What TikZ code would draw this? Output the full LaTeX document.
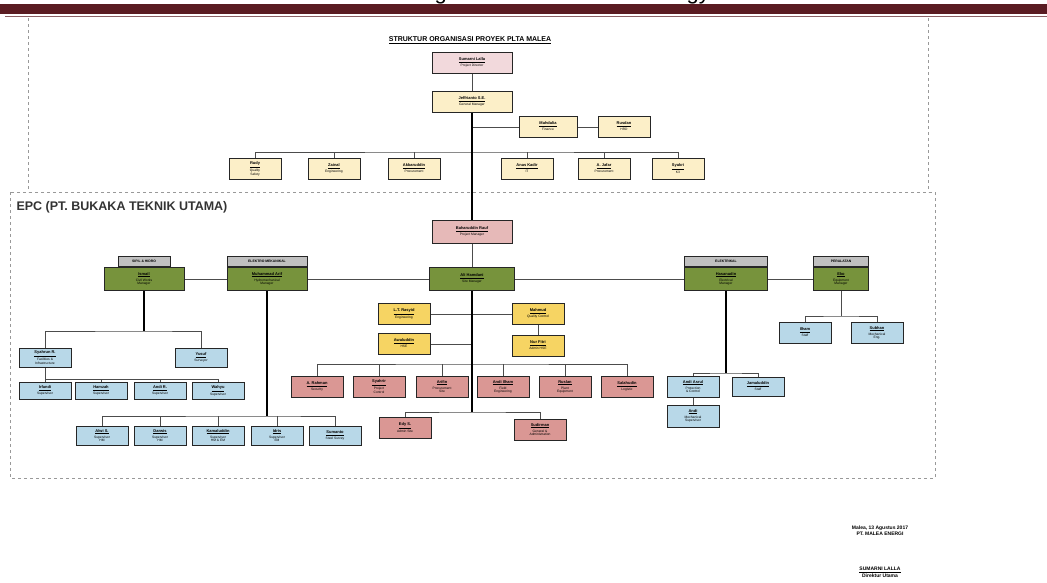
\documentclass[tikz,border=0pt]{standalone}
\usepackage{fontspec}
\setmainfont{Liberation Sans}
\usetikzlibrary{positioning}
\definecolor{barred}{HTML}{5A1C22}
\definecolor{palepink}{HTML}{F2D9DC}
\definecolor{cream}{HTML}{FCEFC8}
\definecolor{salmon}{HTML}{DA9794}
\definecolor{rosy}{HTML}{E6B9B8}
\definecolor{olive}{HTML}{77933C}
\definecolor{gold}{HTML}{F6D463}
\definecolor{skyblue}{HTML}{B8D8E8}
\definecolor{headgray}{HTML}{C0C0C0}
\newcommand{\who}[2]{\underline{#1}\\[0.6pt]{\fontsize{3.3}{3.9}\selectfont\mdseries\renewcommand{\arraystretch}{0.9}\begin{tabular}{@{}c@{}}#2\end{tabular}}}

\begin{document}
\begin{tikzpicture}[x=1pt, y=-1pt,
    orgbox/.style={draw=black!85, line width=1pt, minimum width=52pt, minimum height=21pt,
        inner sep=1pt, align=center, font=\fontsize{4}{4.6}\selectfont\bfseries},
    topbox/.style={orgbox, fill=cream},
    pinkbox/.style={orgbox, fill=salmon},
    greenbox/.style={orgbox, fill=olive, minimum width=80pt, minimum height=23pt},
    headbox/.style={orgbox, fill=headgray, minimum height=10pt, font=\fontsize{3.4}{3.8}\selectfont\bfseries},
    goldbox/.style={orgbox, fill=gold},
    bluebox/.style={orgbox, fill=skyblue, minimum height=19pt},
    link/.style={draw=black!70, line width=0.8pt},
    trunk/.style={draw=black, line width=2pt},
    frame/.style={draw=black!40, dashed, line width=0.6pt}]
    \useasboundingbox (0,0) rectangle (1047,582);

    % page header
    \begin{scope}
        \clip (0,0) rectangle (1047,4);
        \node[anchor=base west, inner sep=0pt, font=\fontsize{22}{24}\selectfont] at (410,-1) {Organization and Methodology};
    \end{scope}
    \fill[barred] (0,4) rectangle (1047,14);
    \draw[barred!70, line width=1pt] (5,16) -- (1047,16);

    % frames
    \draw[frame] (28,18) -- (28,192) (928,18) -- (928,192);
    \draw[frame] (10,192) rectangle (935,478);

    \node[font=\fontsize{7}{8}\selectfont\bfseries] (title) at (470,40) {\underline{STRUKTUR ORGANISASI PROYEK PLTA MALEA}};

    % owner
    \node[orgbox, fill=palepink, minimum width=80pt] (pd) at (472,63) {\who{Sumarni Lalla}{Project Director}};
    \node[topbox, minimum width=80pt] (gm) at (472,102) {\who{Jeffrianto S.E.}{General Manager}};
    \node[topbox, minimum width=58pt] (fin) at (548,127) {\who{Mahdalia}{Finance}};
    \node[topbox] (hrd) at (624,127) {\who{Rusdan}{HRD}};
    \node[topbox] (t1) at (255,169) {\who{Rudy}{Quality\\Safety}};
    \node[topbox] (t2) at (334,169) {\who{Zainal}{Engineering}};
    \node[topbox] (t3) at (414,169) {\who{Akbaruddin}{Procurement}};
    \node[topbox] (t4) at (527,169) {\who{Anas Kadir}{IT}};
    \node[topbox] (t5) at (604,169) {\who{A. Jafar}{Procurement}};
    \node[topbox] (t6) at (678,169) {\who{Syukri}{K3}};
    \coordinate (bus1) at (472,152);

    \draw[link] (pd) -- (gm);
    \draw[link] (gm.south |- fin) -- (fin) -- (hrd);
    \draw[link] (t1.north) |- (bus1) -| (t6.north);
    \foreach \t in {t2,t3,t4,t5}
        \draw[link] (\t.north) -- (\t.north |- bus1);

    % EPC
    \node[anchor=west, font=\fontsize{12.5}{14}\selectfont\bfseries, text=black!80] (epc) at (13,207) {EPC (PT. BUKAKA TEKNIK UTAMA)};
    \node[orgbox, fill=rosy, minimum width=80pt, minimum height=23pt] (epm) at (472,232) {\who{Baharuddin Rauf}{Project Manager}};
    \draw[trunk] (gm.south) -- (epm.north);
    \node[greenbox, minimum width=85pt] (gm2) at (472,279) {\who{Ali Hamdani}{Site Manager}};
    \node[greenbox] (g1) at (144,279) {\who{Ismail}{Civil Works\\Manager}};
    \node[headbox, anchor=south] (h1) at (g1.north) {SIPIL \& HIDRO};
    \node[greenbox] (g2) at (267,279) {\who{Muhammad Arif}{Hydromechanical\\Manager}};
    \node[headbox, anchor=south, minimum width=80pt] (h2) at (g2.north) {ELEKTRO MEKANIKAL};
    \node[greenbox, minimum width=83pt] (g3) at (726,279) {\who{Hasanudin}{Electrical\\Manager}};
    \node[headbox, anchor=south, minimum width=83pt] (h3) at (g3.north) {ELEKTRIKAL};
    \node[greenbox, minimum width=55pt] (g4) at (841,279) {\who{Eko}{Equipment\\Manager}};
    \node[headbox, anchor=south, minimum width=55pt] (h4) at (g4.north) {PERALATAN};
    \draw[link] (epm) -- (gm2);
    \draw[link] (g1) -- (g2) -- (gm2) -- (g3) -- (g4);

    % site staff
    \node[goldbox] (y1) at (404,314) {\who{L.T. Rasyid}{Engineering}};
    \node[goldbox] (y2) at (404,344) {\who{Awaluddin}{HSE}};
    \node[goldbox] (y3) at (538,314) {\who{Mahmud}{Quality Control}};
    \node[goldbox] (y4) at (538,346) {\who{Nur Fitri}{Admin HSE}};
    \draw[link] (y1) -- (y3);
    \draw[link] (y2) -- (y2 -| gm2);
    \draw[link] (y3) -- (y4);

    \node[pinkbox] (p1) at (317,387) {\who{A. Rahman}{Security}};
    \node[pinkbox] (p2) at (379,387) {\who{Syahrir}{Project\\Control}};
    \node[pinkbox] (p3) at (442,387) {\who{Arifin}{Procurement\\Site}};
    \node[pinkbox] (p4) at (503,387) {\who{Andi Ilham}{Field\\Engineering}};
    \node[pinkbox] (p5) at (565,387) {\who{Ruslan}{Plant\\Equipment}};
    \node[pinkbox] (p6) at (627,387) {\who{Salahudin}{Logistic}};
    \node[pinkbox] (q1) at (405,428) {\who{Edy S.}{Admin Site}};
    \node[pinkbox] (q2) at (540,430) {\who{Sudirman}{General \&\\Administration}};
    \coordinate (pbus) at (472,364);
    \coordinate (bot) at (472,412);
    \draw[link] (p1.north) |- (pbus) -| (p6.north);
    \foreach \p in {p2,p3,p4,p5}
        \draw[link] (\p.north) -- (\p.north |- pbus);
    \draw[link] (q1.north) |- (bot) -| (q2.north);
    \draw[trunk] (gm2.south) -- (bot);

    % civil
    \node[bluebox] (a1) at (45,358) {\who{Syahrun R.}{Facilities \&\\Infrastructure}};
    \node[bluebox] (a2) at (201,358) {\who{Yusuf}{Surveyor}};
    \node[bluebox, minimum height=17pt] (b1) at (45,391) {\who{Irfandi}{Supervisor}};
    \node[bluebox, minimum height=17pt] (b2) at (101,391) {\who{Hamzah}{Supervisor}};
    \node[bluebox, minimum height=17pt] (b3) at (160,391) {\who{Andi R.}{Supervisor}};
    \node[bluebox, minimum height=17pt] (b4) at (218,391) {\who{Wahyu}{Supervisor}};
    \coordinate (lbus) at (144,331);
    \coordinate (abus) at (45,379);
    \draw[link, line width=1.2pt, black] (g1.south) -- (lbus);
    \draw[link] (a1.north) |- (lbus) -| (a2.north);
    \draw[link] (a1.south) -- (b1.north);
    \draw[link] (abus) -| (b4.north);
    \foreach \b in {b2,b3}
        \draw[link] (\b.north) -- (\b.north |- abus);

    % hydromechanical
    \node[bluebox] (c1) at (102,436) {\who{Alwi S.}{Supervisor\\HM}};
    \node[bluebox] (c2) at (160,436) {\who{Darwis}{Supervisor\\HM}};
    \node[bluebox] (c3) at (218,436) {\who{Kamaluddin}{Supervisor\\HM \& EM}};
    \node[bluebox] (c4) at (277,436) {\who{Idris}{Supervisor\\EM}};
    \node[bluebox] (c5) at (335,436) {\who{Sumanto}{Steel Survey}};
    \coordinate (cbus) at (267,416);
    \draw[link, line width=1.2pt, black] (g2.south) -- (cbus);
    \draw[link] (c1.north) |- (cbus) -| (c5.north);
    \foreach \c in {c2,c3,c4}
        \draw[link] (\c.north) -- (\c.north |- cbus);

    % electrical
    \node[bluebox, minimum height=21pt] (d1) at (693,387) {\who{Andi Asrul}{Protection\\\& Control}};
    \node[bluebox] (d2) at (758,387) {\who{Jamaluddin}{Staff}};
    \node[bluebox, minimum height=22pt] (d3) at (693,416) {\who{Andi}{Mechanical\\Supervisor}};
    \coordinate (rbus) at (726,373);
    \draw[link, line width=1.2pt, black] (g3.south) -- (rbus);
    \draw[link] (d1.north) |- (rbus) -| (d2.north);
    \draw[link] (d1) -- (d3);

    % equipment
    \node[bluebox, minimum height=21pt] (e1) at (805,333) {\who{Ilham}{Staff}};
    \node[bluebox, minimum height=21pt] (e2) at (877,333) {\who{Subhan}{Mechanical\\Eng.}};
    \coordinate (ebus) at (841,316);
    \draw[link] (g4.south) -- (ebus);
    \draw[link] (e1.north) |- (ebus) -| (e2.north);

    % signature
    \node[align=center, font=\fontsize{5}{5.6}\selectfont\bfseries] (place) at (880,531) {Malea, 13 Agustus 2017\\PT. MALEA ENERGI};
    \node[align=center, font=\fontsize{5}{5.6}\selectfont\bfseries] (sign) at (880,572) {\underline{SUMARNI LALLA}\\Direktur Utama};
\end{tikzpicture}
\end{document}
